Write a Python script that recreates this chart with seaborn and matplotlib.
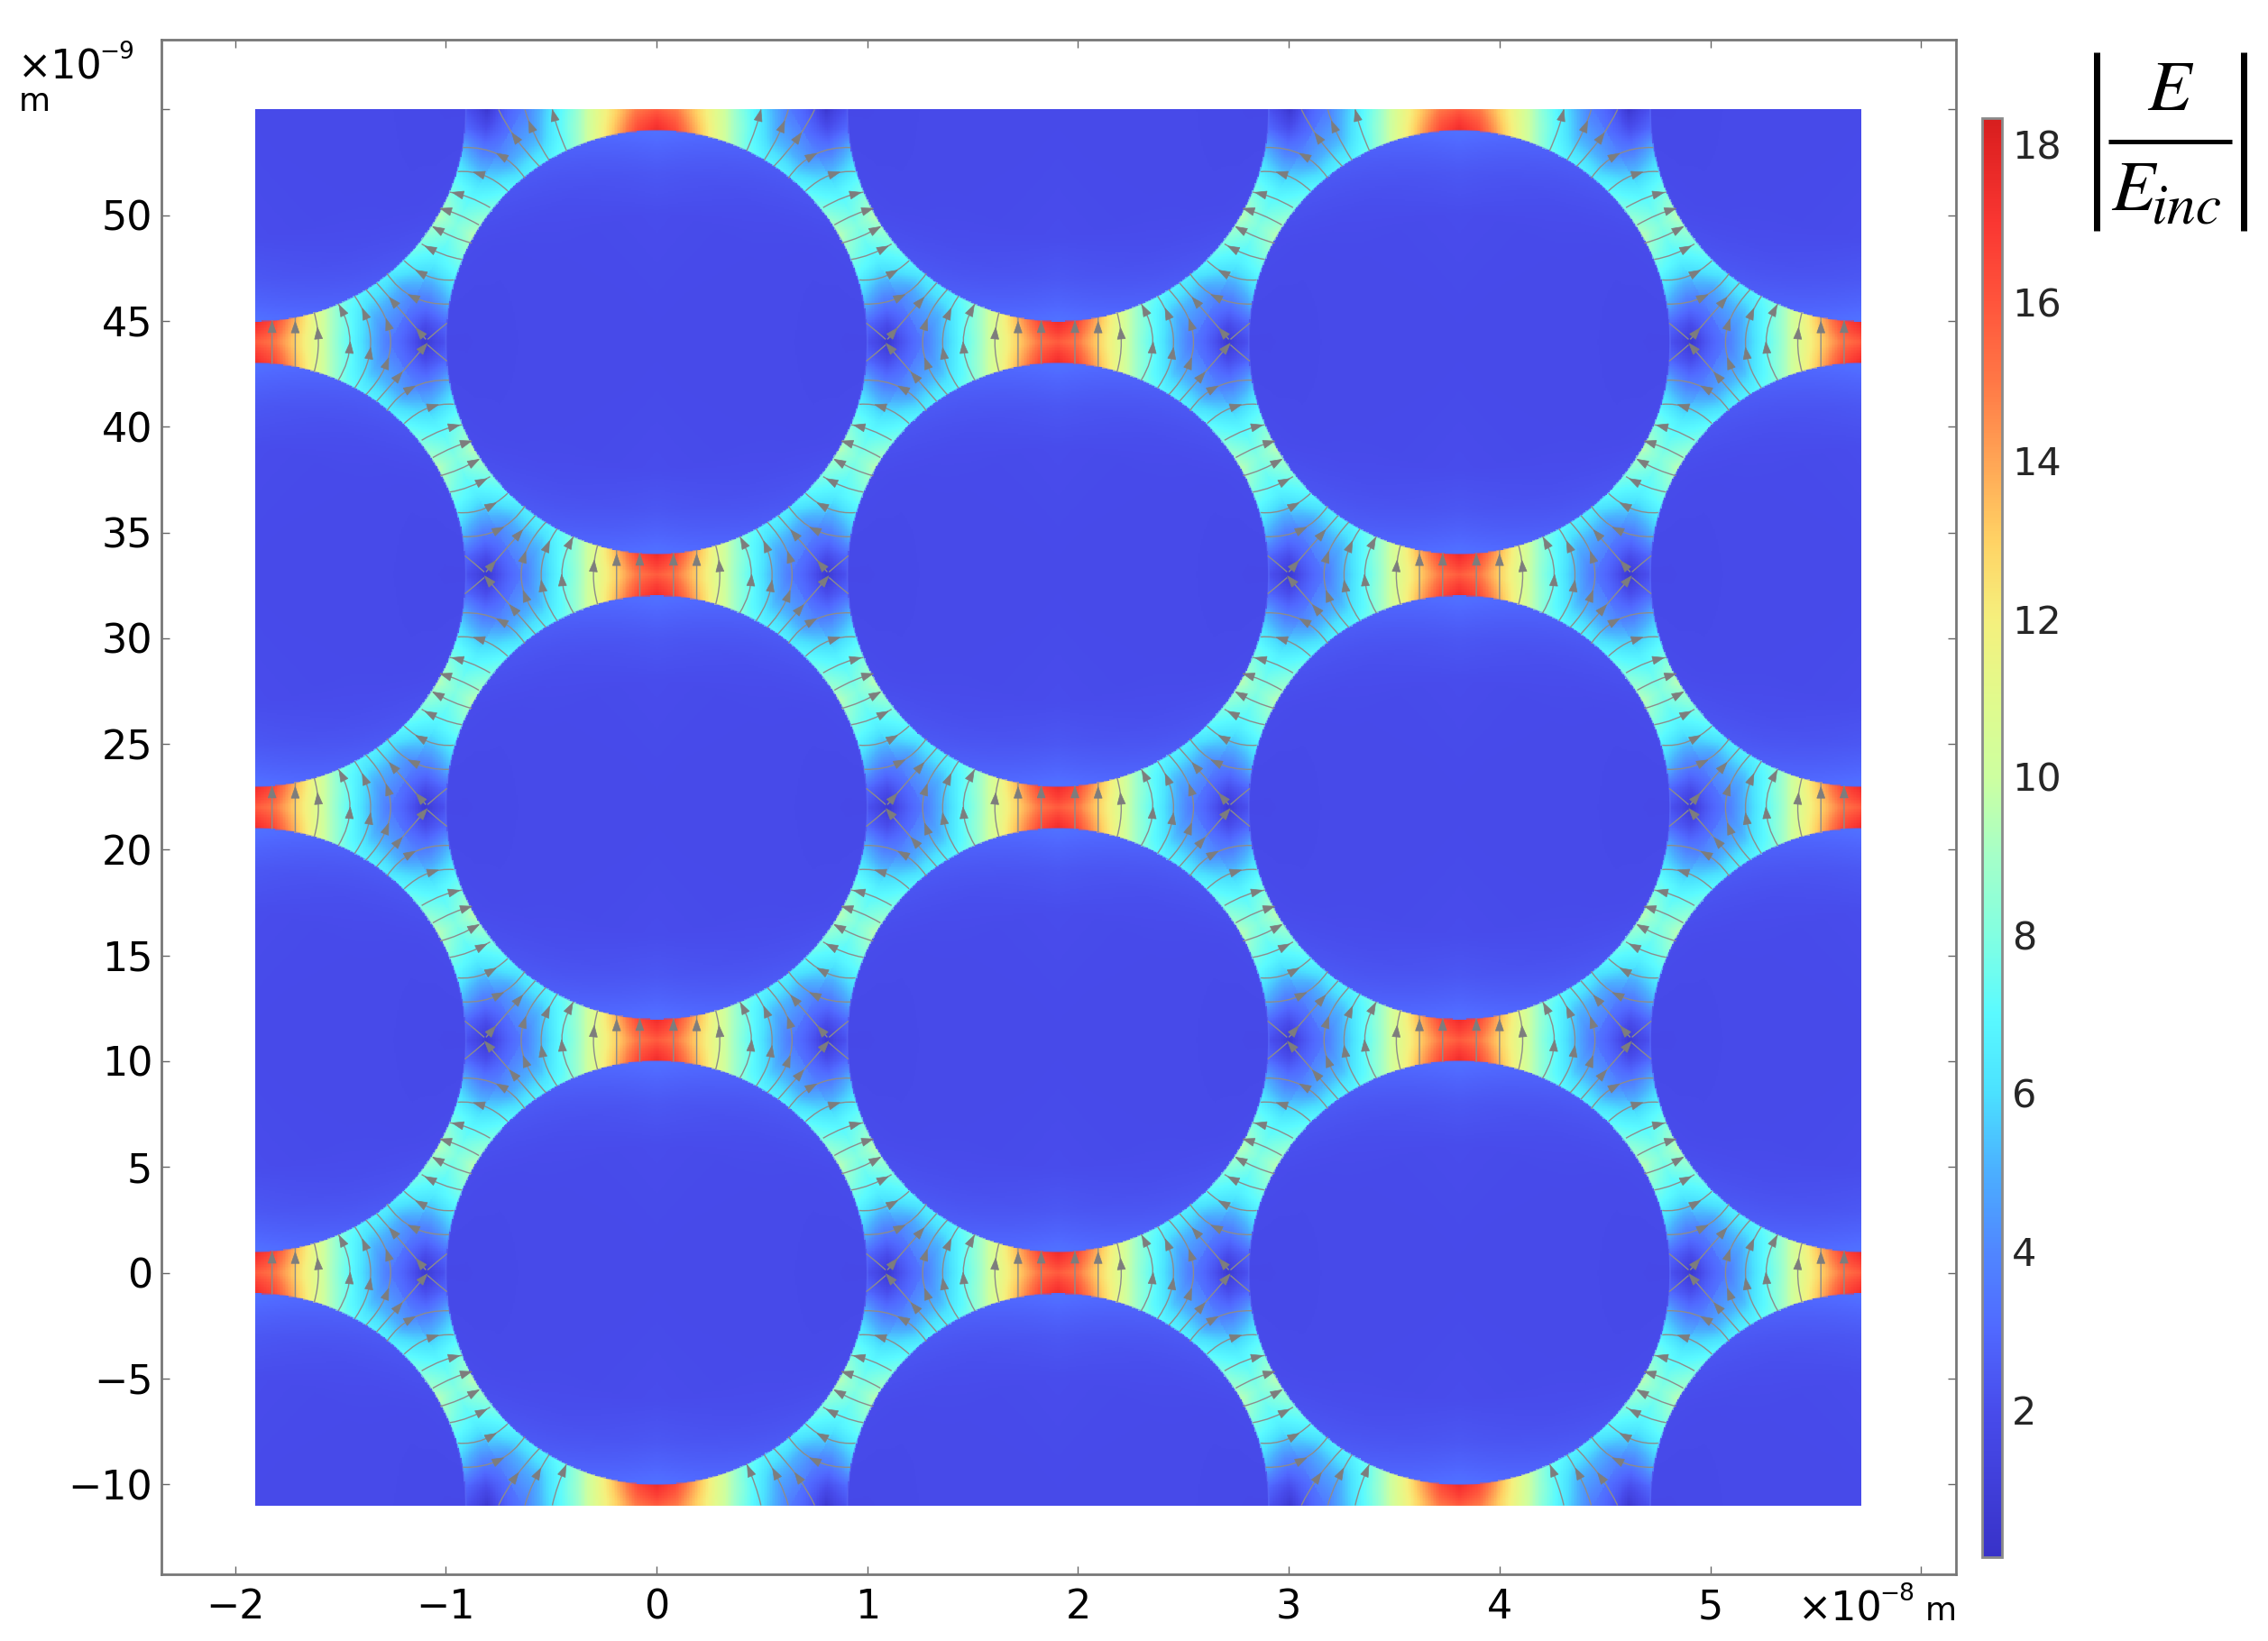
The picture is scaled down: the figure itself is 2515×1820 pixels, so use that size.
import numpy as np
import pandas as pd
import seaborn as sns
import matplotlib.pyplot as plt
from matplotlib.colors import LinearSegmentedColormap
from matplotlib.lines import Line2D
from matplotlib.patches import Circle, PathPatch, Rectangle
from matplotlib.path import Path
from matplotlib.transforms import Affine2D

W, H = 2515, 1820

# tick labels
x_ticks = [-20, -10, 0, 10, 20, 30, 40, 50, 60]
x_labels = ["\u22122", "\u22121", "0", "1", "2", "3", "4", "5", ""]
y_ticks = [-10, -5, 0, 5, 10, 15, 20, 25, 30, 35, 40, 45, 50, 55]
y_labels = ["\u221210", "\u22125", "0", "5", "10", "15", "20", "25", "30", "35", "40", "45", "50", ""]
cbar_ticks = [2, 4, 6, 8, 10, 12, 14, 16, 18]

# geometry, nm
radius = 10
x_range = (-19.05, 57.15)
y_range = (-11, 55)
even_col_x = [0, 38.1]
even_col_y = [-22, 0, 22, 44, 66]
odd_col_x = [-19.05, 19.05, 57.15]
odd_col_y = [-11, 11, 33, 55]

# |E/Einc| outside a sphere: rows = angle from the vertical, columns = distance from surface
out_angle = [0, 5, 10, 15, 20, 25, 30, 40, 50, 55, 60, 70, 80, 85, 90]
out_dist = [0, 0.5, 1, 1.5, 2, 2.7]
out_field = [
    [17.5, 16.8, 15.8, 15.8, 15.8, 15.8],
    [16.5, 15.8, 15.0, 15.0, 15.0, 15.0],
    [14.2, 13.6, 13.0, 12.8, 12.6, 12.6],
    [11.8, 11.4, 11.0, 10.7, 10.5, 10.0],
    [9.6, 9.2, 8.8, 8.3, 7.8, 7.3],
    [7.7, 7.2, 6.9, 6.5, 6.0, 5.2],
    [6.8, 6.2, 5.4, 4.8, 4.3, 3.6],
    [6.5, 5.7, 4.8, 4.1, 3.6, 2.9],
    [7.8, 7.2, 6.7, 6.4, 6.2, 6.0],
    [8.7, 8.0, 7.5, 7.2, 7.0, 7.0],
    [9.6, 8.6, 8.0, 8.0, 8.0, 8.0],
    [7.3, 7.0, 6.7, 6.4, 6.2, 6.0],
    [5.0, 4.2, 3.6, 3.7, 4.2, 4.6],
    [3.0, 2.5, 2.1, 2.7, 3.2, 3.9],
    [2.2, 1.6, 0.6, 2.0, 2.8, 3.6],
]

# same inside a sphere: columns = depth below the surface
in_angle = [0, 30, 60, 90]
in_depth = [0, 1, 2, 4, 10]
in_field = [
    [3.3, 2.8, 2.4, 2.0, 1.85],
    [2.6, 2.3, 2.1, 1.9, 1.85],
    [2.0, 1.9, 1.85, 1.85, 1.85],
    [1.75, 1.75, 1.8, 1.85, 1.85],
]

# colorbar
cbar_values = [0.13, 2, 3, 4, 5, 6, 7, 8, 9, 10, 11, 12, 13, 14, 15, 16, 17, 18, 18.33]
cbar_colors = ["#3832c8", "#484cec", "#5069ff", "#5087ff", "#4bafff", "#4be1ff", "#5afaff",
               "#82ffe1", "#a5ffc8", "#cdffa0", "#e1fa8c", "#f5f07d", "#ffd264", "#ffa555",
               "#ff7846", "#ff553c", "#fa3732", "#e12323", "#d71e1e"]

# hot gaps, nm
inner_gaps = [(-19.05, 44), (19.05, 44), (57.15, 44), (0, 33), (38.1, 33),
              (-19.05, 22), (19.05, 22), (57.15, 22), (0, 11), (38.1, 11),
              (-19.05, 0), (19.05, 0), (57.15, 0)]
top_gaps = [(0, 55), (38.1, 55)]
bottom_gaps = [(0, -11), (38.1, -11)]

# streamlines around one gap, right side: start u,v / control u,v / end u,v / arrow places
cross_lines = [
    (0.8, -1.03, 0.8, 0, 0.8, 1.03, [0.85]),
    (1.9, -1.18, 1.9, 0, 1.9, 1.18, [0.8]),
    (2.8, -1.4, 3.2, 0, 2.8, 1.4, [0.65]),
    (3.94, -1.81, 5.06, 0, 3.94, 1.81, [0.43, 0.92]),
    (4.72, -2.18, 6.24, 0, 4.72, 2.18, [0.38, 0.81]),
    (5.25, -2.49, 7.61, 0, 5.25, 2.49, [0.3, 0.67]),
]
saddle_lines = [
    (5.76, -2.8, 7.0, -1.4, 8.1, -0.13, [0.43, 0.95]),
    (9.1, -0.9, 8.6, -0.5, 8.18, -0.13, []),
    (8.1, 0.13, 7.0, 1.4, 5.76, 2.8, [0.13, 0.68]),
    (8.18, 0.13, 8.6, 0.5, 9.1, 0.9, []),
]
side_lines = [
    (6.25, -3.25, 7.28, -1.73, 9.2, -1.8, [0.45], [0.5]),
    (7.07, -3.85, 8.15, -2.83, 9.43, -2.94, [0.6], [0.65]),
    (7.9, -4.64, 8.9, -4.05, 9.81, -3.91, [0.8], [0.8]),
    (8.43, -5.46, 9.4, -4.9, 10.28, -4.68, [0.85], [0.88]),
]
edge_lines = [
    (4.27, -1.96, 4.75, -0.9, 4.95, 0, [0.85]),
    (5.1, -2.4, 5.95, -1.1, 6.25, 0, [0.65]),
    (5.56, -2.69, 6.9, -1.3, 7.5, 0, [0.5]),
]


def lookup(rows, cols, table, r, c):
    table = np.array(table)
    i = np.interp(r, rows, np.arange(len(rows)))
    j = np.interp(c, cols, np.arange(len(cols)))
    i0 = np.minimum(i.astype(int), len(rows) - 2)
    j0 = np.minimum(j.astype(int), len(cols) - 2)
    fi, fj = i - i0, j - j0
    return (table[i0, j0] * (1 - fi) * (1 - fj) + table[i0 + 1, j0] * fi * (1 - fj)
            + table[i0, j0 + 1] * (1 - fi) * fj + table[i0 + 1, j0 + 1] * fi * fj)


# sample the tables over the whole tile
nx, ny = 1200, 1040
cell_x = (x_range[1] - x_range[0]) / nx
cell_y = (y_range[1] - y_range[0]) / ny
xs = x_range[0] + (np.arange(nx) + 0.5) * cell_x
ys = y_range[0] + (np.arange(ny) + 0.5) * cell_y
gx, gy = np.meshgrid(xs, ys)

centres = [(cx, cy) for cx in even_col_x for cy in even_col_y]
centres += [(cx, cy) for cx in odd_col_x for cy in odd_col_y]
best = np.full(gx.shape, 1e9)
best_dx = np.zeros(gx.shape)
best_dy = np.zeros(gx.shape)
for cx, cy in centres:
    dx, dy = gx - cx, gy - cy
    dist = np.hypot(dx, dy)
    closer = dist < best
    best[closer] = dist[closer]
    best_dx[closer] = dx[closer]
    best_dy[closer] = dy[closer]
angle = np.degrees(np.arctan2(np.abs(best_dx), np.abs(best_dy)))
field = np.where(best >= radius,
                 lookup(out_angle, out_dist, out_field, angle, best - radius),
                 lookup(in_angle, in_depth, in_field, angle, radius - best))
df = pd.DataFrame(field, index=ys, columns=xs)

sns.set_theme(style="white")
plt.rcParams["font.family"] = ["DejaVu Sans"]

fig = plt.figure(figsize=(W / 100, H / 100), dpi=100)
ax = fig.add_axes([179 / W, 1 - 1746 / H, (2169 - 179) / W, (1746 - 44) / H])
cax = fig.add_axes([2198 / W, 1 - 1727 / H, 22 / W, (1727 - 131) / H])

cmap = LinearSegmentedColormap.from_list(
    "rainbow_light",
    [((v - cbar_values[0]) / (cbar_values[-1] - cbar_values[0]), c) for v, c in zip(cbar_values, cbar_colors)],
    N=512)
sns.heatmap(df, ax=ax, cbar_ax=cax, cmap=cmap, vmin=cbar_values[0], vmax=cbar_values[-1],
            xticklabels=False, yticklabels=False, cbar_kws={"ticks": cbar_ticks})

# heatmap works in cell numbers, put the mesh back on nm
mesh = ax.collections[0]
mesh.set_transform(Affine2D().scale(cell_x, cell_y).translate(x_range[0], y_range[0]) + ax.transData)
ax.set_xlim(-23.5, 61.66)
ax.set_ylim(-14.26, 58.3)
ax.set_xticks(x_ticks, x_labels)
ax.set_yticks(y_ticks, y_labels)
ax.tick_params(direction="in", length=6.5, width=1, color="#666666", top=True, right=True,
               bottom=True, left=True, labelsize=32, labelcolor="black")
ax.tick_params(axis="x", pad=11)
ax.tick_params(axis="y", pad=7)
for side in ax.spines.values():
    side.set_visible(True)
    side.set_color("#777777")
    side.set_linewidth(2)

line_verts, line_codes, head_verts, head_codes = [], [], [], []


def add_line(gap, flip, s, c, e, arrows):
    sign = -1 if flip else 1
    p0 = np.array([gap[0] + sign * s[0], gap[1] + s[1]])
    p1 = np.array([gap[0] + sign * c[0], gap[1] + c[1]])
    p2 = np.array([gap[0] + sign * e[0], gap[1] + e[1]])
    line_verts.extend([p0, p1, p2])
    line_codes.extend([Path.MOVETO, Path.CURVE3, Path.CURVE3])
    for t in arrows:
        pos = (1 - t) ** 2 * p0 + 2 * t * (1 - t) * p1 + t ** 2 * p2
        tan = 2 * (1 - t) * (p1 - p0) + 2 * t * (p2 - p1)
        tan = tan / np.hypot(*tan)
        nor = np.array([-tan[1], tan[0]])
        head_verts.extend([pos + 0.27 * tan, pos - 0.27 * tan + 0.19 * nor, pos - 0.27 * tan - 0.19 * nor, pos])
        head_codes.extend([Path.MOVETO, Path.LINETO, Path.LINETO, Path.CLOSEPOLY])


for flip in [False, True]:
    for gap in inner_gaps:
        for su, sv, cu, cv, eu, ev, arrows in cross_lines + saddle_lines:
            add_line(gap, flip, (su, sv), (cu, cv), (eu, ev), arrows)
        for su, sv, cu, cv, eu, ev, low, up in side_lines:
            add_line(gap, flip, (su, sv), (cu, cv), (eu, ev), low)
            add_line(gap, flip, (eu, -ev), (cu, -cv), (su, -sv), up)
    for gap in top_gaps:
        for su, sv, cu, cv, eu, ev, arrows in edge_lines:
            add_line(gap, flip, (su, sv), (cu, cv), (eu, ev), arrows)
        for su, sv, cu, cv, eu, ev, low, up in side_lines:
            add_line(gap, flip, (su, sv), (cu, cv), (eu, ev), low)
    for gap in bottom_gaps:
        for su, sv, cu, cv, eu, ev, arrows in edge_lines:
            add_line(gap, flip, (eu, -ev), (cu, -cv), (su, -sv), arrows)
        for su, sv, cu, cv, eu, ev, low, up in side_lines:
            add_line(gap, flip, (eu, -ev), (cu, -cv), (su, -sv), up)

clip = Rectangle((x_range[0], y_range[0]), x_range[1] - x_range[0], y_range[1] - y_range[0], transform=ax.transData)
# soft rim so the sphere edges are not stepped
for cx, cy in centres:
    rim = Circle((cx, cy), radius, fill=False, edgecolor="#5a68f5", linewidth=1.3, alpha=0.55, zorder=2)
    ax.add_patch(rim)
    rim.set_clip_path(clip)
lines = PathPatch(Path(np.array(line_verts), line_codes), fill=False, edgecolor="#8c8c8c", linewidth=1.0, zorder=3)
heads = PathPatch(Path(np.array(head_verts), head_codes), facecolor="#7d7d7d", edgecolor="#7d7d7d", linewidth=0.5, zorder=4)
for patch in [lines, heads]:
    ax.add_patch(patch)
    patch.set_clip_path(clip)

# colorbar
cax.tick_params(direction="in", length=3, width=1.2, color="#333333", left=True, right=True, labelsize=31, pad=8)
cbar = ax.collections[0].colorbar
cbar.outline.set_visible(True)
cbar.outline.set_edgecolor("#8a8a8a")
cbar.outline.set_linewidth(2)


def px_text(x, y, s, size, **kw):
    fig.text(x / W, 1 - y / H, s, fontsize=size, va="baseline", color="black", **kw)


def px_bar(x0, y0, x1, y1, px_width):
    fig.add_artist(Line2D([x0 / W, x1 / W], [1 - y0 / H, 1 - y1 / H], color="black",
                          linewidth=px_width * 0.72, solid_capstyle="butt"))


# scale factors
px_text(20, 87, "\u00d710", 32)
px_text(110, 65, "\u22129", 19)
px_text(21, 123, "m", 26)
px_text(1994, 1797, "\u00d710", 32)
px_text(2084, 1775, "\u22128", 19)
px_text(2135, 1797, "m", 26)

# |E / Einc|
px_bar(2325, 58, 2325, 256, 7)
px_bar(2488, 58, 2488, 256, 7)
px_bar(2338, 157, 2475, 157, 5)
serif = {"family": "STIXGeneral", "style": "italic"}
px_text(2405, 122, "E", 57, ha="center", **serif)
px_text(2341, 233, "E", 57, **serif)
px_text(2386, 248, "inc", 46, **serif)

fig.savefig("out.png", dpi=100, facecolor="white")
